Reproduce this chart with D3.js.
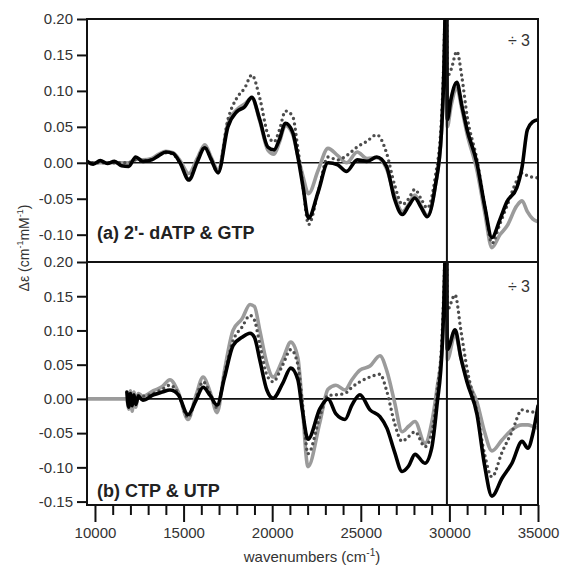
<!DOCTYPE html>
<html>
<head>
<meta charset="utf-8">
<script src="https://cdn.jsdelivr.net/npm/d3@7"></script>
<style>
  body { margin: 0; background: #fff; }
  svg { font-family: "Liberation Sans", Arial, sans-serif; }
</style>
</head>
<body>
<svg id="chart" width="563" height="569"></svg>
<script>
// panel (a) 2'-dATP & GTP
const waveA = [9550, 9900, 10300, 10700, 11100, 11500, 11900, 12300, 12700, 13200, 13600, 14000, 14400, 14800, 15300, 15750, 16200, 16550, 16950, 17500, 18000, 18450, 18850, 19300, 19750, 20100, 20400, 20750, 21150, 21450, 21750, 22050, 22600, 23150, 23700, 24200, 24800, 25350, 25900, 26450, 26900, 27350, 27700, 28050, 28400, 28750, 29200, 29550, 29750, 29830, 29880, 30100, 30420, 30700, 31000, 31550, 32000, 32400, 32850, 33250, 33800, 34100, 34400, 34700, 35000];
const blackA = [0.002, -0.002, 0.003, -0.001, 0.002, -0.004, -0.005, 0.008, 0.002, 0.004, 0.010, 0.015, 0.013, 0.000, -0.024, 0.000, 0.021, 0.005, -0.014, 0.050, 0.071, 0.078, 0.091, 0.060, 0.022, 0.018, 0.032, 0.055, 0.043, 0.008, -0.035, -0.077, -0.040, 0.000, -0.003, -0.012, 0.004, 0.002, 0.008, -0.005, -0.050, -0.072, -0.060, -0.049, -0.062, -0.075, -0.033, 0.042, 0.20, 0.35, 0.06, 0.09, 0.112, 0.080, 0.046, 0.000, -0.061, -0.104, -0.079, -0.054, -0.035, -0.006, 0.046, 0.057, 0.060];
const greyA = [0.000, 0.000, 0.000, 0.000, 0.000, 0.000, 0.000, 0.005, 0.004, 0.006, 0.012, 0.016, 0.014, 0.003, -0.015, 0.005, 0.025, 0.008, -0.010, 0.055, 0.074, 0.082, 0.090, 0.058, 0.018, 0.012, 0.028, 0.052, 0.040, 0.010, -0.020, -0.043, -0.010, 0.020, 0.010, 0.000, 0.015, 0.006, 0.007, -0.008, -0.045, -0.068, -0.058, -0.045, -0.060, -0.073, -0.033, 0.042, 0.20, 0.35, 0.05, 0.08, 0.104, 0.075, 0.040, -0.010, -0.070, -0.118, -0.100, -0.088, -0.060, -0.053, -0.068, -0.078, -0.082];
const dotA = [0.000, 0.000, 0.000, 0.000, 0.000, 0.000, 0.000, 0.004, 0.003, 0.005, 0.010, 0.014, 0.012, 0.000, -0.022, 0.002, 0.022, 0.005, -0.013, 0.060, 0.090, 0.104, 0.122, 0.090, 0.040, 0.029, 0.045, 0.072, 0.065, 0.020, -0.035, -0.086, -0.040, 0.008, 0.004, 0.010, 0.022, 0.030, 0.039, 0.014, -0.030, -0.058, -0.050, -0.037, -0.050, -0.063, -0.020, 0.060, 0.22, 0.35, 0.12, 0.13, 0.155, 0.120, 0.065, 0.005, -0.060, -0.112, -0.085, -0.060, -0.025, -0.014, -0.018, -0.020, -0.021];

// panel (b) CTP & UTP
const waveB = [9550, 10500, 11500, 11800, 11900, 12000, 12100, 12200, 12300, 12450, 12700, 13300, 13800, 14230, 14700, 15250, 15700, 16100, 16500, 16890, 17300, 17790, 18300, 18750, 19000, 19300, 19700, 20050, 20600, 21050, 21450, 21700, 22020, 22700, 23150, 23600, 24110, 24500, 24950, 25520, 26080, 26480, 26900, 27330, 27700, 28060, 28620, 29000, 29300, 29600, 29760, 29830, 29880, 30320, 30650, 30990, 31560, 31980, 32400, 32970, 33530, 34100, 34430, 34700, 35000];
const blackB = [null, null, null, 0.010, -0.012, 0.008, -0.010, 0.006, -0.008, 0.004, -0.002, 0.006, 0.010, 0.013, 0.006, -0.023, -0.002, 0.017, 0.005, -0.009, 0.030, 0.078, 0.090, 0.096, 0.090, 0.057, 0.013, 0.001, 0.023, 0.045, 0.028, -0.016, -0.059, -0.014, 0.000, -0.022, -0.030, -0.009, 0.006, -0.016, -0.026, -0.043, -0.077, -0.106, -0.098, -0.081, -0.094, -0.072, -0.009, 0.080, 0.22, 0.35, 0.072, 0.101, 0.060, 0.025, -0.023, -0.096, -0.142, -0.116, -0.094, -0.062, -0.072, -0.052, -0.010];
const greyB = [0.000, 0.000, 0.000, 0.000, -0.015, 0.012, -0.018, 0.010, -0.012, 0.008, 0.004, 0.012, 0.018, 0.028, 0.010, -0.030, 0.005, 0.032, 0.010, -0.020, 0.040, 0.100, 0.117, 0.138, 0.135, 0.100, 0.052, 0.032, 0.058, 0.083, 0.060, -0.010, -0.099, -0.033, 0.014, 0.020, 0.013, 0.028, 0.042, 0.048, 0.063, 0.040, -0.004, -0.048, -0.040, -0.033, -0.065, -0.035, 0.015, 0.080, 0.22, 0.35, 0.057, 0.095, 0.060, 0.030, -0.005, -0.048, -0.076, -0.060, -0.045, -0.038, -0.038, -0.040, -0.043];
const dotB = [null, null, null, null, null, null, null, null, null, 0.005, 0.004, 0.008, 0.014, 0.020, 0.008, -0.027, 0.002, 0.025, 0.008, -0.013, 0.035, 0.085, 0.105, 0.122, 0.115, 0.080, 0.035, 0.025, 0.050, 0.072, 0.050, -0.005, -0.080, -0.025, 0.005, 0.006, 0.008, 0.017, 0.025, 0.032, 0.036, 0.010, -0.035, -0.062, -0.055, -0.048, -0.070, -0.050, 0.010, 0.100, 0.24, 0.35, 0.13, 0.152, 0.100, 0.045, -0.020, -0.080, -0.114, -0.078, -0.048, -0.016, -0.018, -0.019, -0.021];

const yTicksA = [0.20, 0.15, 0.10, 0.05, 0.00, -0.05, -0.10];
const yTicksB = [0.20, 0.15, 0.10, 0.05, 0.00, -0.05, -0.10, -0.15];
const xTicks = [10000, 15000, 20000, 25000, 30000, 35000];
const xMinor = d3.range(10000, 35001, 1000).filter((d) => d % 5000 !== 0);
const divider = 29860;

const margin = { left: 87, right: 538 };
const panelA = { top: 19, bottom: 262 };
const panelB = { top: 262, bottom: 505 };

const svg = d3.select("#chart");

const x = d3.scaleLinear().domain([9550, 35000]).range([margin.left, margin.right]);
const yA = d3.scaleLinear().domain([-0.138, 0.2]).range([panelA.bottom, panelA.top]);
const yB = d3.scaleLinear().domain([-0.155, 0.2]).range([panelB.bottom, panelB.top]);

const fmt = (d) => d.toFixed(2);

function drawPanel(id, panel, y, ticks, wave, series, label, labelY, divY) {
  svg
    .append("clipPath")
    .attr("id", id)
    .append("rect")
    .attr("x", margin.left)
    .attr("y", panel.top)
    .attr("width", margin.right - margin.left)
    .attr("height", panel.bottom - panel.top);

  // zero line
  svg
    .append("line")
    .attr("x1", margin.left)
    .attr("x2", margin.right)
    .attr("y1", y(0))
    .attr("y2", y(0))
    .attr("stroke", "#111")
    .attr("stroke-width", 1.6);

  const line = d3
    .line()
    .defined((d) => d[1] != null)
    .x((d) => x(d[0]))
    .y((d) => y(d[1]))
    .curve(d3.curveMonotoneX);

  const g = svg.append("g").attr("clip-path", `url(#${id})`);
  series.forEach((s) => {
    g.append("path")
      .datum(d3.zip(wave, s.values))
      .attr("fill", "none")
      .attr("stroke", s.color)
      .attr("stroke-width", s.width)
      .attr("stroke-linecap", "round")
      .attr("stroke-linejoin", "round")
      .attr("stroke-dasharray", s.dash)
      .attr("d", line);
  });

  svg
    .append("g")
    .attr("transform", `translate(${margin.left},0)`)
    .call(d3.axisLeft(y).tickValues(ticks).tickFormat(fmt).tickSize(10).tickPadding(4))
    .call((g) => g.select(".domain").remove())
    .call((g) => g.selectAll(".tick line").attr("stroke", "#111").attr("stroke-width", 2))
    .call((g) =>
      g.selectAll(".tick text").attr("fill", "#333").style("font-size", "15px").style("font-family", "Liberation Sans, Arial, sans-serif")
    );

  // frame
  svg
    .append("rect")
    .attr("x", margin.left)
    .attr("y", panel.top)
    .attr("width", margin.right - margin.left)
    .attr("height", panel.bottom - panel.top)
    .attr("fill", "none")
    .attr("stroke", "#111")
    .attr("stroke-width", 2);

  svg
    .append("text")
    .attr("x", 97)
    .attr("y", labelY)
    .attr("fill", "#222")
    .style("font-size", "18px")
    .style("font-weight", "bold")
    .text(label);

  svg
    .append("text")
    .attr("x", 530)
    .attr("y", divY)
    .attr("text-anchor", "end")
    .attr("fill", "#333")
    .style("font-size", "16px")
    .text("÷ 3");
}

drawPanel(
  "clipA",
  panelA,
  yA,
  yTicksA,
  waveA,
  [
    { values: greyA, color: "#9b9b9b", width: 3.6, dash: null },
    { values: dotA, color: "#4d4d4d", width: 3.4, dash: "0 5.4" },
    { values: blackA, color: "#000", width: 3.6, dash: null },
  ],
  "(a) 2'- dATP & GTP",
  239,
  46
);

drawPanel(
  "clipB",
  panelB,
  yB,
  yTicksB,
  waveB,
  [
    { values: greyB, color: "#9b9b9b", width: 3.6, dash: null },
    { values: dotB, color: "#4d4d4d", width: 3.4, dash: "0 5.4" },
    { values: blackB, color: "#000", width: 3.6, dash: null },
  ],
  "(b) CTP & UTP",
  497,
  292
);

// vertical divider
svg
  .append("line")
  .attr("x1", x(divider))
  .attr("x2", x(divider))
  .attr("y1", panelA.top)
  .attr("y2", panelB.bottom)
  .attr("stroke", "#111")
  .attr("stroke-width", 2);

// x axis
const xAxisG = svg.append("g").attr("transform", `translate(0,${panelB.bottom})`);
xAxisG
  .append("g")
  .call(d3.axisBottom(x).tickValues(xMinor).tickFormat("").tickSize(10))
  .call((g) => g.select(".domain").remove())
  .call((g) => g.selectAll(".tick line").attr("stroke", "#111").attr("stroke-width", 2));
xAxisG
  .append("g")
  .call(d3.axisBottom(x).tickValues(xTicks).tickFormat(d3.format("d")).tickSize(17).tickPadding(5))
  .call((g) => g.select(".domain").remove())
  .call((g) => g.selectAll(".tick line").attr("stroke", "#111").attr("stroke-width", 2))
  .call((g) =>
    g.selectAll(".tick text").attr("fill", "#333").style("font-size", "15px").style("font-family", "Liberation Sans, Arial, sans-serif")
  );

// axis titles
const xt = svg
  .append("text")
  .attr("x", 312)
  .attr("y", 562)
  .attr("text-anchor", "middle")
  .attr("fill", "#333")
  .style("font-size", "15px");
xt.append("tspan").text("wavenumbers (cm");
xt.append("tspan").attr("dy", -6).style("font-size", "10px").text("-1");
xt.append("tspan").attr("dy", 6).text(")");

const yt = svg
  .append("text")
  .attr("transform", "translate(29,248) rotate(-90)")
  .attr("text-anchor", "middle")
  .attr("fill", "#333")
  .style("font-size", "14px");
yt.append("tspan").text("Δε (cm");
yt.append("tspan").attr("dy", -6).style("font-size", "9px").text("-1");
yt.append("tspan").attr("dy", 6).text("mM");
yt.append("tspan").attr("dy", -6).style("font-size", "9px").text("-1");
yt.append("tspan").attr("dy", 6).text(")");
</script>
</body>
</html>
